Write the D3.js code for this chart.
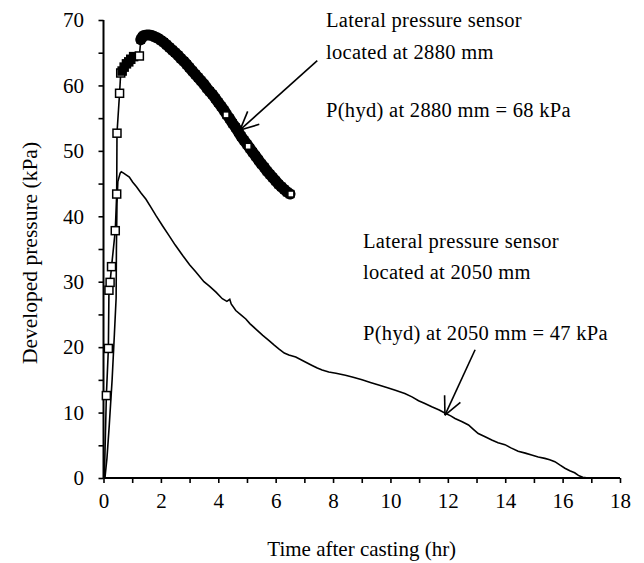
<!DOCTYPE html>
<html><head><meta charset="utf-8">
<script src="https://cdn.jsdelivr.net/npm/d3@7"></script>
<style>html,body{margin:0;padding:0;background:#fff}svg{display:block}</style>
</head><body><svg id="c" width="644" height="563"></svg>
<script>
// ---- data ----
const xTicks = [0,2,4,6,8,10,12,14,16,18];
const yTicks = [0,10,20,30,40,50,60,70];
const xLabel = "Time after casting (hr)";
const yLabel = "Developed pressure (kPa)";

// sensor at 2880 mm : sparse hollow-marker part (rise)
const t2880rise = [0.03,0.10,0.17,0.19,0.23,0.28,0.41,0.46,0.47,0.56,0.60];
const p2880rise = [0,12.6,19.8,28.7,29.9,32.3,37.8,43.4,52.7,58.8,61.9];
// cluster of overlapping markers near the top of the rise
const t2880cluster = [0.65,0.72,0.80,0.88,0.95,1.05];
const p2880cluster = [62.2,62.8,63.3,63.6,64.0,64.4];
const t2880top = [1.25];
const p2880top = [64.5];
// dense part (markers overlap into a solid band)
const t2880dense = [1.30,1.35,1.40,1.50,1.60,1.70,1.80,1.90,2.00,2.10,2.20,2.30,2.40,2.50,2.60,2.70,2.80,2.90,3.00,3.10,3.20,3.30,3.40,3.50,3.60,3.70,3.80,3.90,4.00,4.10,4.20,4.30,4.40,4.50,4.60,4.70,4.80,4.90,5.00,5.10,5.20,5.30,5.40,5.50,5.60,5.70,5.80,5.90,6.00,6.10,6.20,6.30,6.40,6.50];
const p2880dense = [67.0,67.4,67.6,67.7,67.7,67.6,67.4,67.2,66.9,66.6,66.2,65.8,65.4,65.0,64.6,64.1,63.7,63.2,62.7,62.2,61.7,61.2,60.7,60.2,59.6,59.1,58.6,58.0,57.4,56.8,56.2,55.5,54.9,54.2,53.6,52.9,52.2,51.6,51.0,50.4,49.8,49.2,48.6,48.0,47.5,46.9,46.4,45.9,45.4,44.9,44.5,44.1,43.7,43.4];
// markers that remain visible (white) inside the band
const t2880open = [4.27,5.04,6.53];
const p2880open = [55.5,50.7,43.4];

// sensor at 2050 mm : plain line
const t2050 = [0.05,0.12,0.20,0.30,0.38,0.44,0.45,0.47,0.50,0.58,0.62,0.70,0.80,0.90,1.02,1.15,1.30,1.48,1.65,1.83,2.05,2.29,2.50,2.76,3.00,3.22,3.50,3.70,3.92,4.14,4.30,4.40,4.45,4.61,4.80,4.96,5.10,5.30,5.55,5.77,5.95,6.12,6.30,6.46,6.70,7.00,7.27,7.45,7.62,7.85,8.10,8.43,8.70,9.01,9.30,9.59,9.90,10.17,10.50,10.75,10.98,11.20,11.44,11.70,11.91,12.10,12.25,12.50,12.72,12.90,13.06,13.30,13.53,13.75,13.99,14.20,14.45,14.70,14.92,15.15,15.38,15.55,15.73,15.90,16.08,16.25,16.42,16.55,16.70,16.90];
const p2050 = [0,3,8,15,22,27.5,35,42,45.3,46.6,46.8,46.6,46.3,46.0,45.2,44.5,43.6,42.6,41.4,40.1,38.6,37.0,35.6,34.0,32.6,31.5,30.0,29.3,28.4,27.4,27.0,27.3,26.6,25.6,24.9,24.3,23.6,22.8,21.8,21.0,20.3,19.7,19.1,18.8,18.5,17.8,17.2,16.8,16.5,16.2,16.0,15.7,15.4,15.0,14.6,14.2,13.8,13.4,12.9,12.4,11.8,11.4,10.9,10.4,9.9,9.5,9.1,8.6,8.1,7.4,6.8,6.3,5.8,5.4,5.1,4.6,4.1,3.8,3.5,3.2,3.0,2.8,2.5,2.0,1.5,1.1,0.8,0.4,0.1,0];

// annotations (text lines; arrow from -> tip in data units)
const note2880 = ["Lateral pressure sensor","located at 2880 mm","P(hyd) at 2880 mm = 68 kPa"];
const note2050 = ["Lateral pressure sensor","located at 2050 mm","P(hyd) at 2050 mm = 47 kPa"];
const arrow2880 = {from:[7.45,63.8], to:[4.76,53.2]};
const arrow2050 = {from:[12.95,19.6], to:[11.9,9.6]};

// ---- drawing ----
const FONT = "'Liberation Serif','Times New Roman',Tinos,serif";
const svg = d3.select("#c");
const x = d3.scaleLinear().domain([0,18]).range([103.5,620]);
const y = d3.scaleLinear().domain([0,70]).range([478,20]);

const zip = (a,b)=>a.map((v,i)=>[v,b[i]]);
const line = d3.line().x(d=>x(d[0])).y(d=>y(d[1]));

// axes
const xAxis = d3.axisBottom(x).tickValues(d3.range(0,19,1)).tickSize(5).tickFormat(d=> xTicks.includes(d)? d : "");
const yAxis = d3.axisLeft(y).tickValues(d3.range(0,71,5)).tickSize(5).tickFormat(d=> yTicks.includes(d)? d : "");
const gx = svg.append("g").attr("transform",`translate(0,${y(0)})`).call(xAxis);
const gy = svg.append("g").attr("transform",`translate(${x(0)},0)`).call(yAxis);
[gx,gy].forEach(g=>{
  g.attr("font-family",null).attr("font-size",null);
  g.select(".domain").attr("stroke","#000").attr("stroke-width",2);
  g.selectAll(".tick line").attr("stroke","#000").attr("stroke-width",1.6);
  g.selectAll(".tick text").style("font-family",FONT).style("font-size","21px").attr("fill","#000");
});
gx.select(".domain").attr("d",`M${x(0)},0H${x(18)}`);
gy.select(".domain").attr("d",`M0,${y(70)}V${y(0)}`);
gx.selectAll(".tick text").attr("dy","1.05em");
gy.selectAll(".tick text").attr("dx","-0.55em");

svg.append("text").attr("x",(x(0)+x(18))/2).attr("y",556).attr("text-anchor","middle")
  .style("font-family",FONT).style("font-size","21px").text(xLabel);
svg.append("text").attr("transform",`translate(37,${(y(0)+y(70))/2+4}) rotate(-90)`).attr("text-anchor","middle")
  .style("font-family",FONT).style("font-size","21.5px").text(yLabel);

// 2050 series
svg.append("path").datum(zip(t2050,p2050)).attr("d",line).attr("fill","none").attr("stroke","#000").attr("stroke-width",1.6);

// 2880 series
const all2880 = zip(t2880rise,p2880rise).concat(zip(t2880cluster,p2880cluster),zip(t2880top,p2880top),zip(t2880dense,p2880dense));
svg.append("path").datum(all2880).attr("d",line).attr("fill","none").attr("stroke","#000").attr("stroke-width",1.6);
// solid band of overlapping markers
svg.append("path").datum(zip(t2880dense,p2880dense)).attr("d",line).attr("fill","none")
  .attr("stroke","#000").attr("stroke-width",11).attr("stroke-linejoin","round").attr("stroke-linecap","round");
const S = 8;
function squares(data, fill, size){
  svg.append("g").selectAll("rect").data(data).join("rect")
    .attr("x",d=>x(d[0])-size/2).attr("y",d=>y(d[1])-size/2).attr("width",size).attr("height",size)
    .attr("fill",fill).attr("stroke","#000").attr("stroke-width",1.5);
}
squares(zip(t2880dense,p2880dense), "#000", 7);
squares(zip(t2880rise,p2880rise).slice(1), "#fff", S);
squares(zip(t2880cluster,p2880cluster), "#000", S);
squares(zip(t2880top,p2880top), "#fff", S);
squares(zip(t2880open,p2880open), "#fff", 6);

// annotations
function note(lines, px, baselines){
  lines.forEach((s,i)=>svg.append("text").attr("x",px).attr("y",baselines[i])
    .style("font-family",FONT).style("font-size","20.5px").style("letter-spacing","0.3px").text(s));
}
note(note2880, 326, [27,59,117]);
note(note2050, 363, [248,279,340]);

function arrow(a){
  const x1=x(a.from[0]), y1=y(a.from[1]), x2=x(a.to[0]), y2=y(a.to[1]);
  const ang=Math.atan2(y2-y1,x2-x1), L=20, spread=0.45;
  const g=svg.append("g").attr("stroke","#000").attr("stroke-width",1.6).attr("fill","none");
  g.append("line").attr("x1",x1).attr("y1",y1).attr("x2",x2).attr("y2",y2);
  [-spread,spread].forEach(s=>{
    g.append("line").attr("x1",x2).attr("y1",y2)
     .attr("x2",x2-L*Math.cos(ang+s)).attr("y2",y2-L*Math.sin(ang+s));
  });
}
arrow(arrow2880);
arrow(arrow2050);
</script></body></html>
